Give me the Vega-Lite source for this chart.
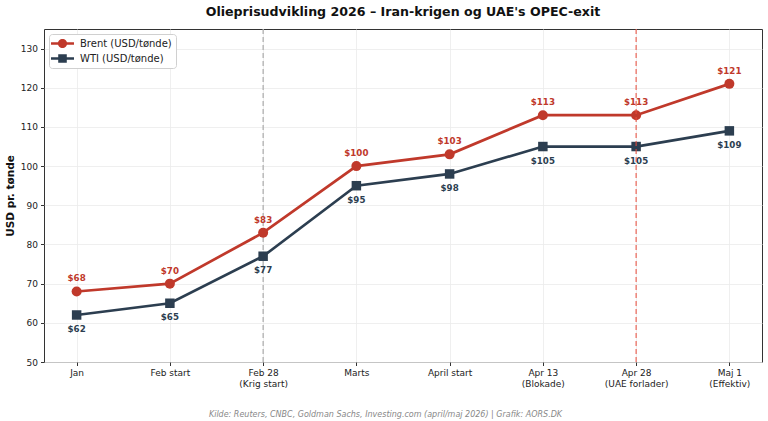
{
  "$schema": "https://vega.github.io/schema/vega-lite/v6.json",
  "width": 718,
  "height": 333,
  "autosize": {"type": "none"},
  "padding": {"left": 44, "top": 29, "right": 6, "bottom": 59},
  "title": {
    "text": "Olieprisudvikling 2026 – Iran-krigen og UAE's OPEC-exit",
    "font": "DejaVu Sans",
    "fontSize": 12.6,
    "fontWeight": "bold",
    "color": "#111",
    "offset": 10
  },
  "datasets": {
    "prices": [
      {"date": "Jan", "series": "Brent (USD/tønde)", "price": 68},
      {"date": "Feb start", "series": "Brent (USD/tønde)", "price": 70},
      {"date": "Feb 28|(Krig start)", "series": "Brent (USD/tønde)", "price": 83},
      {"date": "Marts", "series": "Brent (USD/tønde)", "price": 100},
      {"date": "April start", "series": "Brent (USD/tønde)", "price": 103},
      {"date": "Apr 13|(Blokade)", "series": "Brent (USD/tønde)", "price": 113},
      {"date": "Apr 28|(UAE forlader)", "series": "Brent (USD/tønde)", "price": 113},
      {"date": "Maj 1|(Effektiv)", "series": "Brent (USD/tønde)", "price": 121},
      {"date": "Jan", "series": "WTI (USD/tønde)", "price": 62},
      {"date": "Feb start", "series": "WTI (USD/tønde)", "price": 65},
      {"date": "Feb 28|(Krig start)", "series": "WTI (USD/tønde)", "price": 77},
      {"date": "Marts", "series": "WTI (USD/tønde)", "price": 95},
      {"date": "April start", "series": "WTI (USD/tønde)", "price": 98},
      {"date": "Apr 13|(Blokade)", "series": "WTI (USD/tønde)", "price": 105},
      {"date": "Apr 28|(UAE forlader)", "series": "WTI (USD/tønde)", "price": 105},
      {"date": "Maj 1|(Effektiv)", "series": "WTI (USD/tønde)", "price": 109}
    ],
    "events": [
      {"date": "Feb 28|(Krig start)", "kind": "war"},
      {"date": "Apr 28|(UAE forlader)", "kind": "uae"}
    ]
  },
  "data": {"name": "prices"},
  "encoding": {
    "x": {
      "field": "date",
      "type": "ordinal",
      "sort": null,
      "scale": {
        "type": "point",
        "padding": 0.35,
        "domain": ["Jan", "Feb start", "Feb 28|(Krig start)", "Marts", "April start", "Apr 13|(Blokade)", "Apr 28|(UAE forlader)", "Maj 1|(Effektiv)"]
      },
      "axis": {
        "labelExpr": "split(datum.label, '|')",
        "labelAngle": 0,
        "labelLineHeight": 11,
        "title": "Kilde: Reuters, CNBC, Goldman Sachs, Investing.com (april/maj 2026) | Grafik: AORS.DK",
        "titleFont": "DejaVu Sans",
        "titleFontSize": 8,
        "titleFontStyle": "italic",
        "titleFontWeight": "normal",
        "titleColor": "#888",
        "titlePadding": 22,
        "titleX": 341,
        "titleAnchor": "middle",
        "titleAlign": "center"
      }
    },
    "y": {
      "field": "price",
      "type": "quantitative",
      "scale": {"domain": [50, 135], "nice": false, "zero": false},
      "axis": {
        "values": [50, 60, 70, 80, 90, 100, 110, 120, 130],
        "title": "USD pr. tønde",
        "titleFontWeight": "bold",
        "titleFontSize": 10.5,
        "titlePadding": 5
      }
    }
  },
  "layer": [
    {
      "data": {"name": "events"},
      "transform": [{"filter": "datum.kind === 'war'"}],
      "mark": {"type": "rule", "strokeDash": [5, 3], "strokeWidth": 1.2, "color": "#aaaaaa"},
      "encoding": {"y": null}
    },
    {
      "mark": {"type": "line", "strokeWidth": 2.7},
      "encoding": {
        "color": {
          "field": "series",
          "type": "nominal",
          "scale": {"domain": ["Brent (USD/tønde)", "WTI (USD/tønde)"], "range": ["#c0392b", "#2c3e50"]},
          "legend": {
            "title": null,
            "orient": "top-left",
            "offset": 5,
            "padding": 4,
            "rowPadding": 4,
            "strokeColor": "#d0d0d0",
            "fillColor": "white",
            "cornerRadius": 3,
            "labelFont": "DejaVu Sans",
            "labelFontSize": 10,
            "labelColor": "#222",
            "symbolSize": 121,
            "symbolOffset": 4,
            "symbolOpacity": 1,
            "labelOffset": 12,
            "encode": {
              "symbols": {
                "update": {
                  "shape": {"signal": "datum.value === 'Brent (USD/tønde)' ? 'M-2.09,-0.24H2.09V0.24H-2.09Z M0.84,0A0.84,0.84,0,1,1,-0.84,0A0.84,0.84,0,1,1,0.84,0Z' : 'M-2.09,-0.24H2.09V0.24H-2.09Z M-0.78,-0.78H0.78V0.78H-0.78Z'"},
                  "fill": {"signal": "datum.value === 'Brent (USD/tønde)' ? '#c0392b' : '#2c3e50'"},
                  "fillOpacity": {"value": 1},
                  "strokeWidth": {"value": 0}
                }
              }
            }
          }
        }
      }
    },
    {
      "transform": [{"filter": "datum.series === 'Brent (USD/tønde)'"}],
      "mark": {"type": "point", "filled": true, "opacity": 1, "shape": "circle", "size": 100},
      "encoding": {"color": {"field": "series", "type": "nominal"}}
    },
    {
      "transform": [{"filter": "datum.series === 'WTI (USD/tønde)'"}],
      "mark": {"type": "point", "filled": true, "opacity": 1, "shape": "square", "size": 90},
      "encoding": {"color": {"field": "series", "type": "nominal"}}
    },
    {
      "transform": [{"filter": "datum.series === 'Brent (USD/tønde)'"}],
      "mark": {"type": "text", "dy": -13, "fontSize": 8.7, "fontWeight": "bold", "font": "DejaVu Sans", "color": "#c0392b"},
      "encoding": {"text": {"field": "price", "type": "quantitative", "format": "$.0f"}}
    },
    {
      "transform": [{"filter": "datum.series === 'WTI (USD/tønde)'"}],
      "mark": {"type": "text", "dy": 14, "fontSize": 8.7, "fontWeight": "bold", "font": "DejaVu Sans", "color": "#2c3e50"},
      "encoding": {"text": {"field": "price", "type": "quantitative", "format": "$.0f"}}
    },
    {
      "data": {"name": "events"},
      "transform": [{"filter": "datum.kind === 'uae'"}],
      "mark": {"type": "rule", "strokeDash": [5, 3], "strokeWidth": 1.2, "color": "#e74c3c", "opacity": 0.85},
      "encoding": {"y": null}
    }
  ],
  "config": {
    "font": "DejaVu Sans",
    "view": {"stroke": "#333", "strokeWidth": 1},
    "axis": {
      "labelFont": "DejaVu Sans",
      "labelFontSize": 9,
      "labelColor": "#222",
      "titleFont": "DejaVu Sans",
      "titleColor": "#111",
      "grid": true,
      "gridColor": "#ebebeb",
      "gridWidth": 0.8,
      "domain": false,
      "tickColor": "#333",
      "tickSize": 3.5,
      "labelPadding": 3
    }
  }
}
